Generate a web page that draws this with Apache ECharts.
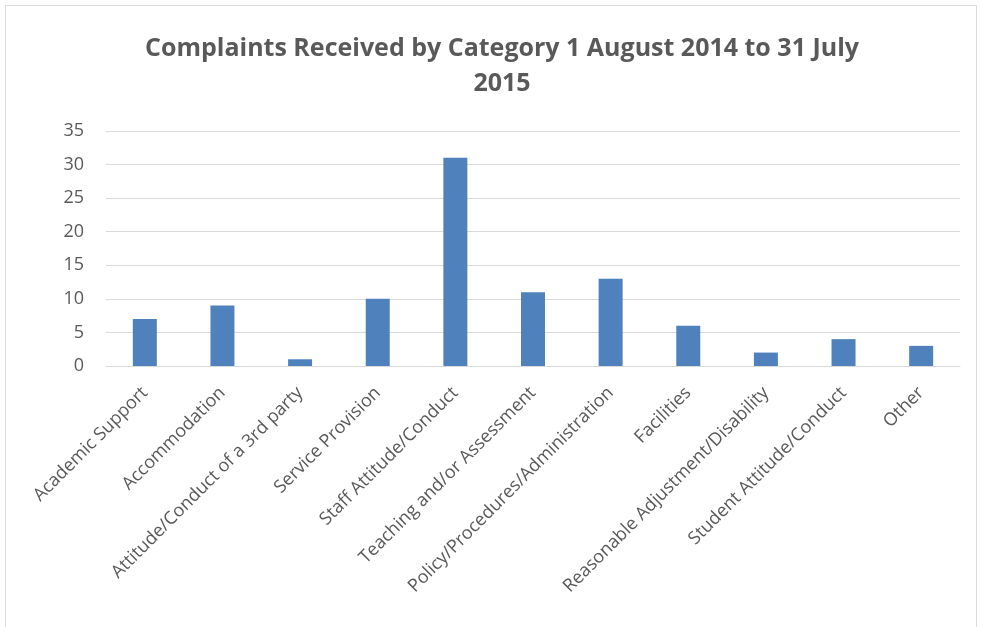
<!DOCTYPE html>
<html>
<head>
<meta charset="utf-8">
<script src="https://cdn.jsdelivr.net/npm/echarts@6/dist/echarts.min.js"></script>
<style>
html,body{margin:0;padding:0;background:#fff;}
#c{width:982px;height:627px;}
</style>
</head>
<body>
<div id="c"></div>
<script>
const categories = ["Academic Support","Accommodation","Attitude/Conduct of a 3rd party","Service Provision","Staff Attitude/Conduct","Teaching and/or Assessment","Policy/Procedures/Administration","Facilities","Reasonable Adjustment/Disability","Student Attitude/Conduct","Other"];
const complaints = [7, 9, 1, 10, 31, 11, 13, 6, 2, 4, 3];
const yTicks = [0, 5, 10, 15, 20, 25, 30, 35];

const chart = echarts.init(document.getElementById('c'), null, {renderer:'canvas'});
chart.setOption({
  animation:false,
  backgroundColor:'#fff',
  title:{
    text:'Complaints Received by Category 1 August 2014 to 31 July\n2015',
    left:497, top:26, textAlign:'center',
    textStyle:{fontFamily:'Open Sans', fontWeight:'bold', fontSize:25, color:'#595959', lineHeight:35}
  },
  graphic:[{type:'rect', shape:{x:5.5,y:5.5,width:971,height:650}, style:{fill:null, stroke:'#d9d9d9', lineWidth:1}, silent:true}],
  grid:{left:106, right:22, top:131, bottom:261, containLabel:false},
  xAxis:{
    type:'category', data:categories,
    axisTick:{show:false},
    axisLine:{lineStyle:{color:'#d9d9d9', width:1}},
    axisLabel:{rotate:45, interval:0, fontFamily:'Open Sans', fontSize:18, color:'#595959', margin:24}
  },
  yAxis:{
    type:'value', min:0, max:35, interval:5,
    axisLine:{show:false}, axisTick:{show:false},
    splitLine:{lineStyle:{color:'#d9d9d9', width:1}},
    axisLabel:{fontFamily:'Open Sans', fontSize:18, color:'#595959', margin:22,
      formatter:v=>yTicks.includes(v)?String(v):''}
  },
  series:[{type:'bar', data:complaints, barWidth:24, itemStyle:{color:'#4f81bd'}}]
});
</script>
</body>
</html>
